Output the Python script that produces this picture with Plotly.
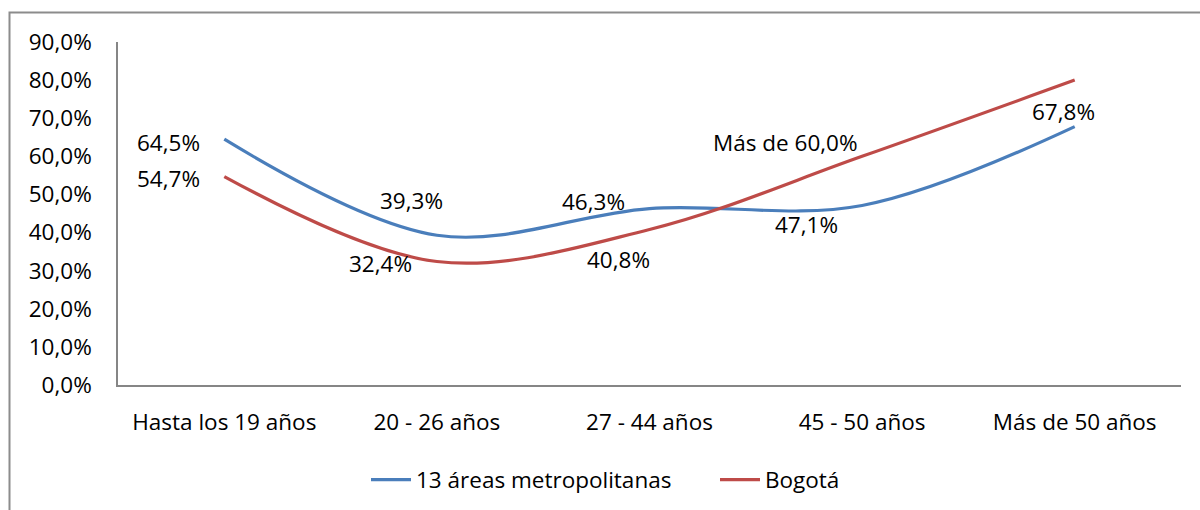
import plotly.graph_objects as go

# ---- data ----
categories = ["Hasta los 19 años", "20 - 26 años", "27 - 44 años", "45 - 50 años", "Más de 50 años"]
areas_13 = [64.5, 39.3, 46.3, 47.1, 67.8]
bogota = [54.7, 32.4, 40.8, 60.0, 80.0]
series_names = ["13 áreas metropolitanas", "Bogotá"]
y_ticks = [0, 10, 20, 30, 40, 50, 60, 70, 80, 90]
y_tick_labels = ["0,0%", "10,0%", "20,0%", "30,0%", "40,0%", "50,0%", "60,0%", "70,0%", "80,0%", "90,0%"]

# data label texts (None = no label)
labels_13 = ["64,5%", "39,3%", "46,3%", "47,1%", "67,8%"]
labels_bog = ["54,7%", "32,4%", "40,8%", "Más de 60,0%", None]

# ---- styling / label placement (offsets in axis units) ----
BLUE = "#4A7EBB"
RED = "#BE4B48"
FONT = "Open Sans"
FS = 22.5
off_13 = [(-0.264, -1.0), (-0.118, 9.1), (-0.263, 1.9), (-0.261, -5.1), (-0.053, 4.0)]
off_bog = [(-0.264, -0.4), (-0.263, -0.5), (-0.146, -7.9), (-0.358, 3.6), (0, 0)]

fig = go.Figure()
fig.add_trace(go.Scatter(x=list(range(len(categories))), y=areas_13, name=series_names[0],
                         mode="lines", line=dict(color=BLUE, width=3.2, shape="spline", smoothing=1.0)))
fig.add_trace(go.Scatter(x=list(range(len(categories))), y=bogota, name=series_names[1],
                         mode="lines", line=dict(color=RED, width=3.2, shape="spline", smoothing=1.0)))

ann = []
for vals, labs, offs in ((areas_13, labels_13, off_13), (bogota, labels_bog, off_bog)):
    for i, (v, t, o) in enumerate(zip(vals, labs, offs)):
        if t is None:
            continue
        ann.append(dict(x=i + o[0], y=v + o[1], xref="x", yref="y", text=t, showarrow=False,
                        xanchor="center", yanchor="middle",
                        font=dict(family=FONT, size=FS, color="#000000")))

W, H = 1200, 510
L, R, T, B = 118, 19, 42, 125
pw, ph = W - L - R, H - T - B

def px(xpix):
    return (xpix - L) / pw

def py(ypix):
    return (H - B - ypix) / ph

fig.update_layout(
    width=W, height=H,
    margin=dict(l=L, r=R, t=T, b=B, autoexpand=False),
    paper_bgcolor="white", plot_bgcolor="white",
    font=dict(family=FONT, size=FS, color="#000000"),
    annotations=ann,
    showlegend=True,
    legend=dict(orientation="h", x=px(366), xanchor="left", y=py(480), yanchor="middle",
                font=dict(family=FONT, size=FS), bgcolor="rgba(0,0,0,0)", itemwidth=40,
                entrywidth=294, entrywidthmode="pixels"),
    shapes=[dict(type="rect", xref="paper", yref="paper",
                 x0=px(9.5), x1=px(1215), y0=py(525), y1=py(12.5),
                 line=dict(color="#8C8C8C", width=2), fillcolor="rgba(0,0,0,0)", layer="below")],
)
fig.update_xaxes(range=[-0.5, 4.5], tickvals=list(range(len(categories))), ticktext=categories,
                 showgrid=False, zeroline=False, showline=True, linecolor="#868686", linewidth=1.5,
                 ticks="", ticklabelstandoff=16, fixedrange=True)
fig.update_yaxes(range=[0, 90], tickvals=y_ticks, ticktext=y_tick_labels,
                 showgrid=False, zeroline=False, showline=True, linecolor="#868686", linewidth=1.5,
                 ticks="", ticklabelstandoff=20, fixedrange=True)

fig.write_html("out.html", config={"displayModeBar": False},
               post_script="document.body.style.margin='0';")
